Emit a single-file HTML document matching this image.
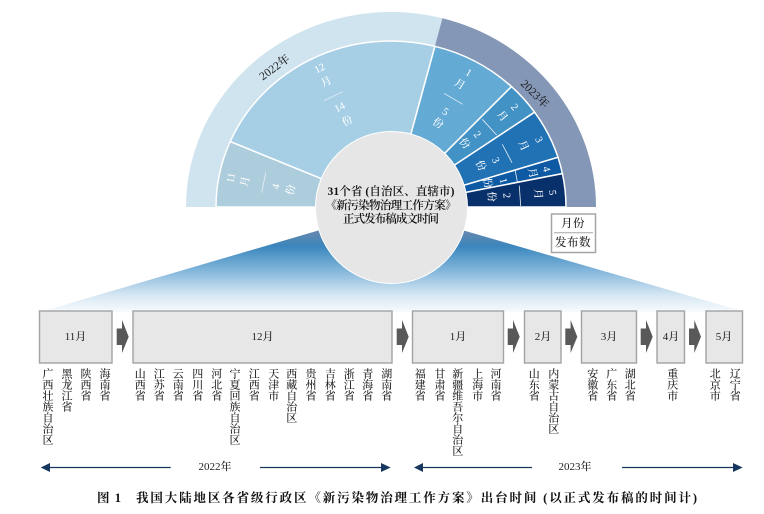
<!DOCTYPE html>
<html><head><meta charset="utf-8"><style>
html,body{margin:0;padding:0;background:#fff}
svg{display:block}
text{font-family:"Liberation Serif","Noto Serif CJK SC",serif}
.w text{fill:#fff;font-size:10.5px;text-anchor:middle;dominant-baseline:central;font-weight:500}
.w line{stroke:#e8f0f6;stroke-width:.8}
.v{font-size:11px;fill:#222;writing-mode:vertical-rl;letter-spacing:0;font-weight:500}
.m{font-size:11px;fill:#222;text-anchor:middle;dominant-baseline:central;font-weight:500}
.b{fill:#e7e7e7;stroke:#a3a3a3;stroke-width:1.4}
.a{fill:#595959}
</style></head><body>
<svg width="764" height="514" viewBox="0 0 764 514" xmlns="http://www.w3.org/2000/svg">
<defs><linearGradient id="g" x1="0" y1="229" x2="0" y2="314" gradientUnits="userSpaceOnUse">
<stop offset="0" stop-color="#6d88ab"/><stop offset=".2" stop-color="#3a86bd"/><stop offset=".5" stop-color="#86b8dc"/><stop offset=".78" stop-color="#d7e7f3"/><stop offset="1" stop-color="#fbfdfe"/></linearGradient></defs>
<polygon points="320,230 462,230 745,312 40,312" fill="url(#g)"/>
<path d="M186,207 A205,195 0 0 1 442.4,18.2 L434.9,46.3 A175,166 0 0 0 216,207 Z" fill="#d0e4ef"/>
<path d="M442.4,18.2 A205,195 0 0 1 596,207 L566,207 A175,166 0 0 0 434.9,46.3 Z" fill="#8497b6"/>
<g stroke="#fff" stroke-width="1.5">
<path d="M391,207 L216,207 A175,166 0 0 1 230.2,141.5 Z" fill="#aecddc"/>
<path d="M391,207 L230.2,141.5 A175,166 0 0 1 434.9,46.3 Z" fill="#a6cfe6"/>
<path d="M391,207 L434.9,46.3 A175,166 0 0 1 511.5,86.6 Z" fill="#63aad5"/>
<path d="M391,207 L511.5,86.6 A175,166 0 0 1 534.6,112.2 Z" fill="#4292c6"/>
<path d="M391,207 L534.6,112.2 A175,166 0 0 1 558,157.3 Z" fill="#2171b5"/>
<path d="M391,207 L558,157.3 A175,166 0 0 1 562.4,173.6 Z" fill="#0d59a3"/>
<path d="M391,207 L562.4,173.6 A175,166 0 0 1 566,207 Z" fill="#08306b"/>
</g>
<g class="w">
<text transform="translate(320,69) rotate(-27)">12</text><text transform="translate(326.7,82.7) rotate(-27)">月</text><line x1="324" y1="100.7" x2="342.7" y2="91.7"/><text transform="translate(340,108) rotate(-27)">14</text><text transform="translate(347.7,121.7) rotate(-27)">份</text>
<text transform="translate(231.7,178) rotate(-78)">11</text><text transform="translate(246,181.7) rotate(-78)">月</text><line x1="265.7" y1="172.7" x2="261.7" y2="192.7"/><text transform="translate(276.7,186.7) rotate(-78)">4</text><text transform="translate(291.7,190) rotate(-78)">份</text>
<text transform="translate(468.3,73.3) rotate(31)">1</text><text transform="translate(459.3,85) rotate(31)">月</text><line x1="444" y1="93.3" x2="462.7" y2="104.3"/><text transform="translate(445,112.3) rotate(31)">5</text><text transform="translate(437.7,124) rotate(31)">份</text>
<text transform="translate(514,107.7) rotate(50)">2</text><text transform="translate(501.7,116.7) rotate(50)">月</text><line x1="482.3" y1="119.3" x2="496.7" y2="135"/><text transform="translate(476.7,135) rotate(50)">2</text><text transform="translate(464,144) rotate(50)">份</text>
<text transform="translate(538.3,140) rotate(64)">3</text><text transform="translate(522.7,146) rotate(64)">月</text><line x1="502.3" y1="144.3" x2="512" y2="162.7"/><text transform="translate(495,160.7) rotate(64)">3</text><text transform="translate(480,166) rotate(64)">份</text>
<text transform="translate(545.7,169.3) rotate(76)">4</text><text transform="translate(531.7,173.3) rotate(76)">月</text><line x1="515.3" y1="171" x2="517.3" y2="181.7"/><text transform="translate(502.7,181) rotate(76)">1</text><text transform="translate(486.7,183.3) rotate(76)">份</text>
<text transform="translate(551.7,192.7) rotate(85)">5</text><text transform="translate(537.3,194) rotate(85)">月</text><line x1="519.3" y1="185.7" x2="520.7" y2="206"/><text transform="translate(506,195.7) rotate(85)">2</text><text transform="translate(490.7,196.7) rotate(85)">份</text>
</g>
<text transform="translate(275,68) rotate(-36)" class="m" style="font-size:11.5px">2022年</text>
<text transform="translate(534.3,94.3) rotate(45)" class="m" style="font-size:11.5px">2023年</text>
<circle cx="391.5" cy="207.5" r="76" fill="#e6e6e6" stroke="#fff" stroke-width="1"/>
<g font-size="11.5px" fill="#111" text-anchor="middle" dominant-baseline="central" font-weight="600">
<text x="391" y="192" textLength="127" lengthAdjust="spacing">31个省 (自治区、直辖市)</text>
<text x="391" y="206" textLength="131" lengthAdjust="spacing">《新污染物治理工作方案》</text>
<text x="391" y="219.5" textLength="96" lengthAdjust="spacing">正式发布稿成文时间</text>
</g>
<rect x="551.5" y="214" width="44" height="38.5" fill="#fff" stroke="#a6a6a6" stroke-width="1.5"/>
<line x1="554" y1="232.7" x2="593" y2="232.7" stroke="#a6a6a6"/>
<text class="m" x="573" y="224" style="font-size:11.5px;letter-spacing:.5px">月份</text>
<text class="m" x="573" y="243" style="font-size:11.5px;letter-spacing:.5px">发布数</text>
<rect class="b" x="39.5" y="311" width="72.5" height="52"/>
<rect class="b" x="133" y="311" width="259" height="52"/>
<rect class="b" x="412.5" y="311" width="91" height="52"/>
<rect class="b" x="524.5" y="311" width="36.5" height="52"/>
<rect class="b" x="581.5" y="311" width="55" height="52"/>
<rect class="b" x="657" y="311" width="27.5" height="52"/>
<rect class="b" x="706" y="311" width="36.5" height="52"/>
<text class="m" x="75.5" y="337">11月</text>
<text class="m" x="262.5" y="337">12月</text>
<text class="m" x="458" y="337">1月</text>
<text class="m" x="543" y="337">2月</text>
<text class="m" x="609" y="337">3月</text>
<text class="m" x="671" y="337">4月</text>
<text class="m" x="724" y="337">5月</text>
<path class="a" d="M116.7,328.5H122V320L128.7,336.7L122,353V345H116.7Z"/>
<path class="a" d="M396.7,328.5H402V320L408.7,336.7L402,353V345H396.7Z"/>
<path class="a" d="M507.7,328.5H513V320L519.7,336.7L513,353V345H507.7Z"/>
<path class="a" d="M565.3,328.5H570.6V320L577.3,336.7L570.6,353V345H565.3Z"/>
<path class="a" d="M640.7,328.5H646V320L652.7,336.7L646,353V345H640.7Z"/>
<path class="a" d="M689,328.5H694.3V320L701,336.7L694.3,353V345H689Z"/>
<g>
<text class="v" x="47" y="368">广西壮族自治区</text>
<text class="v" x="66" y="368">黑龙江省</text>
<text class="v" x="85" y="368">陕西省</text>
<text class="v" x="104" y="368">海南省</text>
<text class="v" x="139.3" y="368">山西省</text>
<text class="v" x="158.3" y="368">江苏省</text>
<text class="v" x="177.3" y="368">云南省</text>
<text class="v" x="196.7" y="368">四川省</text>
<text class="v" x="215.7" y="368">河北省</text>
<text class="v" x="234" y="368">宁夏回族自治区</text>
<text class="v" x="253.3" y="368">江西省</text>
<text class="v" x="272.7" y="368">天津市</text>
<text class="v" x="290.7" y="368">西藏自治区</text>
<text class="v" x="310" y="368">贵州省</text>
<text class="v" x="329.3" y="368">吉林省</text>
<text class="v" x="348.3" y="368">浙江省</text>
<text class="v" x="366.7" y="368">青海省</text>
<text class="v" x="385.7" y="368">湖南省</text>
<text class="v" x="419.3" y="368">福建省</text>
<text class="v" x="439" y="368">甘肃省</text>
<text class="v" x="456.7" y="368">新疆维吾尔自治区</text>
<text class="v" x="476.7" y="368">上海市</text>
<text class="v" x="495" y="368">河南省</text>
<text class="v" x="533.3" y="368">山东省</text>
<text class="v" x="552.7" y="368">内蒙古自治区</text>
<text class="v" x="591.7" y="368">安徽省</text>
<text class="v" x="610.7" y="368">广东省</text>
<text class="v" x="629.3" y="368">湖北省</text>
<text class="v" x="671.7" y="368">重庆市</text>
<text class="v" x="714.3" y="368">北京市</text>
<text class="v" x="734.3" y="368">辽宁省</text>
</g>
<g stroke="#17375e" stroke-width="1.3">
<line x1="46" y1="467.5" x2="170.7" y2="467.5"/><line x1="260" y1="467.5" x2="385" y2="467.5"/>
<line x1="420" y1="467.5" x2="532" y2="467.5"/><line x1="622" y1="467.5" x2="737" y2="467.5"/>
</g>
<g fill="#17375e">
<polygon points="40.7,467.5 50,463 50,472"/><polygon points="390.7,467.5 381,463 381,472"/>
<polygon points="414,467.5 423,463 423,472"/><polygon points="742.7,467.5 733,463 733,472"/>
</g>
<text class="m" x="215" y="467">2022年</text>
<text class="m" x="575" y="467">2023年</text>
<g font-weight="700" font-size="12.5px" fill="#111" dominant-baseline="central">
<text x="97" y="498" textLength="24" lengthAdjust="spacing">图 1</text>
<text x="136" y="498" textLength="561" lengthAdjust="spacing">我国大陆地区各省级行政区《新污染物治理工作方案》出台时间 (以正式发布稿的时间计)</text>
</g>
</svg>
</body></html>
